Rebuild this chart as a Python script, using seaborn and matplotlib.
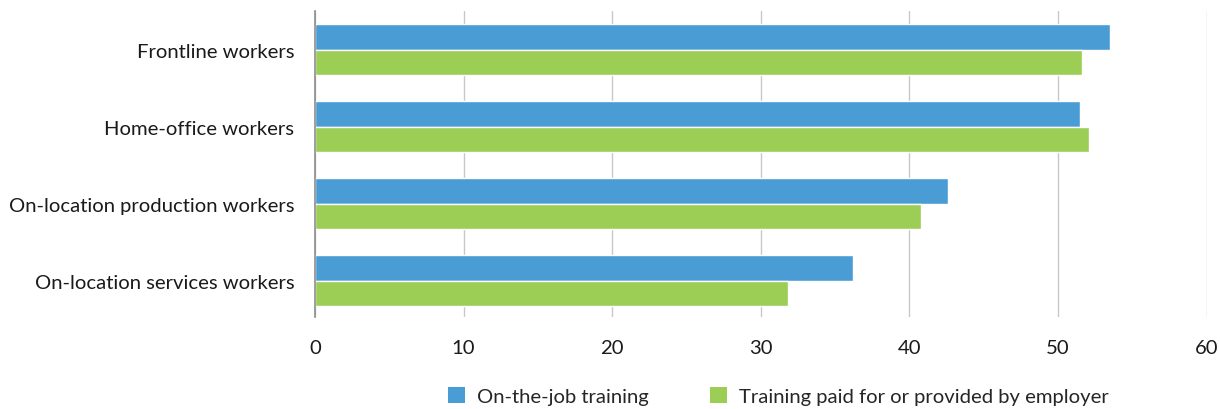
import matplotlib
matplotlib.use("Agg")
import seaborn as sns
import pandas as pd
import matplotlib.pyplot as plt
from matplotlib.patches import Patch

categories = ["Frontline workers", "Home-office workers",
              "On-location production workers", "On-location services workers"]
series = ["On-the-job training", "Training paid for or provided by employer"]
on_the_job = [53.5, 51.5, 42.6, 36.2]
employer_paid = [51.6, 52.1, 40.8, 31.8]
colors = ["#4A9CD5", "#9CCD55"]

rows = []
for cat, a, b in zip(categories, on_the_job, employer_paid):
    rows.append({"category": cat, "series": series[0], "value": a})
    rows.append({"category": cat, "series": series[1], "value": b})
df = pd.DataFrame(rows)

sns.set_style("white")
plt.rcParams["font.family"] = ["Lato", "DejaVu Sans"]

fig = plt.figure(figsize=(12.2, 4.1), dpi=100)
ax = fig.add_axes([0.2582, 0.2244, 0.7308, 0.7463])
sns.barplot(data=df, y="category", x="value", hue="series", palette=colors,
            width=0.66, orient="h", saturation=1, ax=ax, legend=False, zorder=3)

ax.set_xlim(0, 60)
ax.set_xticks(range(0, 61, 10))
ax.set_ylim(3.47, -0.5)
ax.set_xlabel("")
ax.set_ylabel("")
ax.grid(axis="x", color="#c8c8c8", linewidth=1, zorder=0)
ax.set_axisbelow(True)
for s in ["top", "right", "bottom"]:
    ax.spines[s].set_visible(False)
ax.spines["left"].set_color("#8c8c8c")
ax.spines["left"].set_linewidth(1.2)
ax.spines["left"].set_zorder(5)
ax.tick_params(axis="both", length=0, labelsize=14.6, colors="#1a1a1a")
ax.tick_params(axis="x", pad=16)
ax.tick_params(axis="y", pad=15)

# legend sits at the very bottom edge, like in the source figure
handles = [Patch(facecolor=c, edgecolor="none") for c in colors]
fig.legend(handles, series, loc="center", bbox_to_anchor=(0.638, 0.032),
           ncol=2, frameon=False, fontsize=14.6, handlelength=0.85, handleheight=0.85,
           handletextpad=0.6, columnspacing=3.0)

fig.savefig("out.png", dpi=100)
